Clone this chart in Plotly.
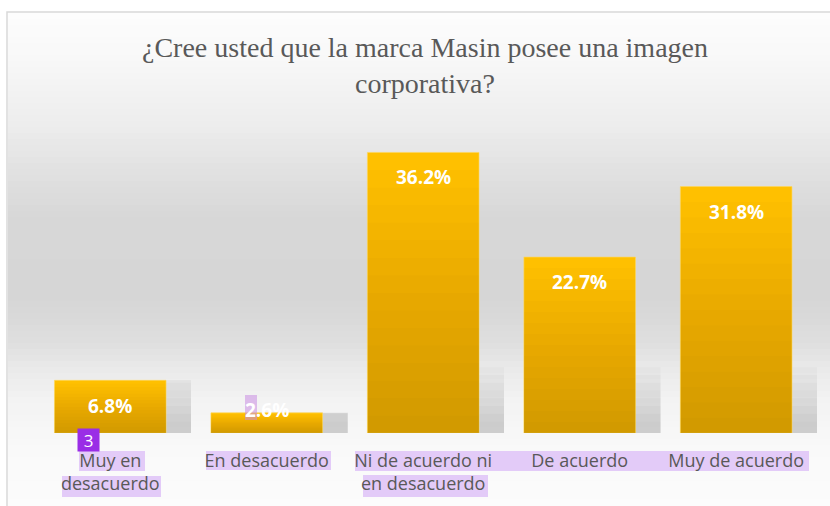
import plotly.graph_objects as go

categories = ["Muy en<br>desacuerdo", "En desacuerdo", "Ni de acuerdo ni<br>en desacuerdo",
              "De acuerdo", "Muy de acuerdo"]
values = [6.8, 2.6, 36.2, 22.7, 31.8]
labels = ["6.8%", "2.6%", "36.2%", "22.7%", "31.8%"]
label_shift = [-26, 3, -25, -25, -25]

W, H = 830, 506
ML, MR, MT, MB = 32, 13, 123, 73
PW, PH = W - ML - MR, H - MT - MB


def px(x):
    return (x - ML) / PW


def py(y):
    return (H - MB - y) / PH


BW = 0.713
OFF = -BW / 2

fig = go.Figure()

# soft shadows
for h in [1.5, 2.5, 3.5, 4.5, 5.5, 6.5, 7.5, 8.5]:
    fig.add_trace(go.Bar(x=categories, y=[min(v, h) for v in values], width=BW, offset=OFF + 0.16,
                         marker=dict(color="rgba(110,110,110,0.045)", line=dict(width=0)),
                         hoverinfo="skip", showlegend=False))
# main bars
fig.add_trace(go.Bar(x=categories, y=values, width=BW, offset=OFF,
                     marker=dict(color="#FFC000", line=dict(width=0.8, color="rgba(255,215,90,0.8)")),
                     hoverinfo="skip", showlegend=False))
# vertical gradient overlays
N = 16
for k in range(1, N):
    fig.add_trace(go.Bar(x=categories, y=[v * k / N for v in values], width=BW, offset=OFF,
                         marker=dict(color="rgba(0,0,0,0.0105)", line=dict(width=0)),
                         hoverinfo="skip", showlegend=False))

shapes = []
# background gradient
stops = [(12, 253), (60, 248), (120, 238), (180, 223), (220, 215), (300, 214), (340, 222),
         (370, 234), (400, 243), (450, 249), (506, 252)]


def gray_at(y):
    for (y0, g0), (y1, g1) in zip(stops[:-1], stops[1:]):
        if y0 <= y <= y1:
            return g0 + (g1 - g0) * (y - y0) / (y1 - y0)
    return stops[-1][1]


step = 6
y = 13
while y < H:
    g = int(round(gray_at(y + step / 2)))
    shapes.append(dict(type="rect", xref="paper", yref="paper", x0=px(8), x1=px(W + 5),
                       y0=py(y + step + 0.5), y1=py(y), fillcolor=f"rgb({g},{g},{g})",
                       line=dict(width=0), layer="below"))
    y += step
# frame
shapes.append(dict(type="rect", xref="paper", yref="paper", x0=px(7), x1=px(W + 10),
                   y0=py(H + 10), y1=py(12), line=dict(color="#d9d9d9", width=1.5),
                   fillcolor="rgba(0,0,0,0)", layer="below"))
# highlight boxes
hl = [(79, 451, 145, 471), (62, 476, 161, 497), (206, 451, 331, 470),
      (355, 451, 809, 471), (363, 475, 488, 497)]
for x0, y0, x1, y1 in hl:
    shapes.append(dict(type="rect", xref="paper", yref="paper", x0=px(x0), x1=px(x1),
                       y0=py(y1), y1=py(y0), fillcolor="#e3cbf8", line=dict(width=0), layer="below"))
shapes.append(dict(type="rect", xref="paper", yref="paper", x0=px(245), x1=px(257),
                   y0=py(420), y1=py(395), fillcolor="rgba(200,140,225,0.55)",
                   line=dict(width=0), layer="above"))

annotations = []
for c, v, t, s in zip(categories, values, labels, label_shift):
    annotations.append(dict(x=c, y=v, xref="x", yref="y", text=f"<b>{t}</b>", showarrow=False,
                            yshift=s, font=dict(family="Open Sans", size=19, color="white")))
annotations.append(dict(xref="paper", yref="paper", x=px(425), y=py(30), yanchor="top",
                        xanchor="center",
                        text="¿Cree usted que la marca Masin posee una imagen<br>corporativa?",
                        showarrow=False, align="center",
                        font=dict(family="Liberation Serif", size=28, color="#595959")))
annotations.append(dict(xref="paper", yref="paper", x=px(88), y=py(439.5), text="3",
                        xanchor="center", yanchor="middle",
                        showarrow=False, bgcolor="#9a2de6", width=21, height=22, borderpad=0,
                        font=dict(family="Open Sans", size=17, color="white")))

fig.update_layout(
    width=W, height=H, margin=dict(l=ML, r=MR, t=MT, b=MB),
    paper_bgcolor="white", plot_bgcolor="rgba(0,0,0,0)",
    barmode="overlay", shapes=shapes, annotations=annotations,
    xaxis=dict(showgrid=False, zeroline=False, showline=False, ticks="",
               tickfont=dict(family="Open Sans", size=18, color="#595959"),
               ticklabelstandoff=15),
    yaxis=dict(range=[0, 40], visible=False, showgrid=False, zeroline=False),
)

fig.write_html("out.html", config={"displayModeBar": False},
               post_script="document.body.style.margin='0';document.body.style.padding='0';")
